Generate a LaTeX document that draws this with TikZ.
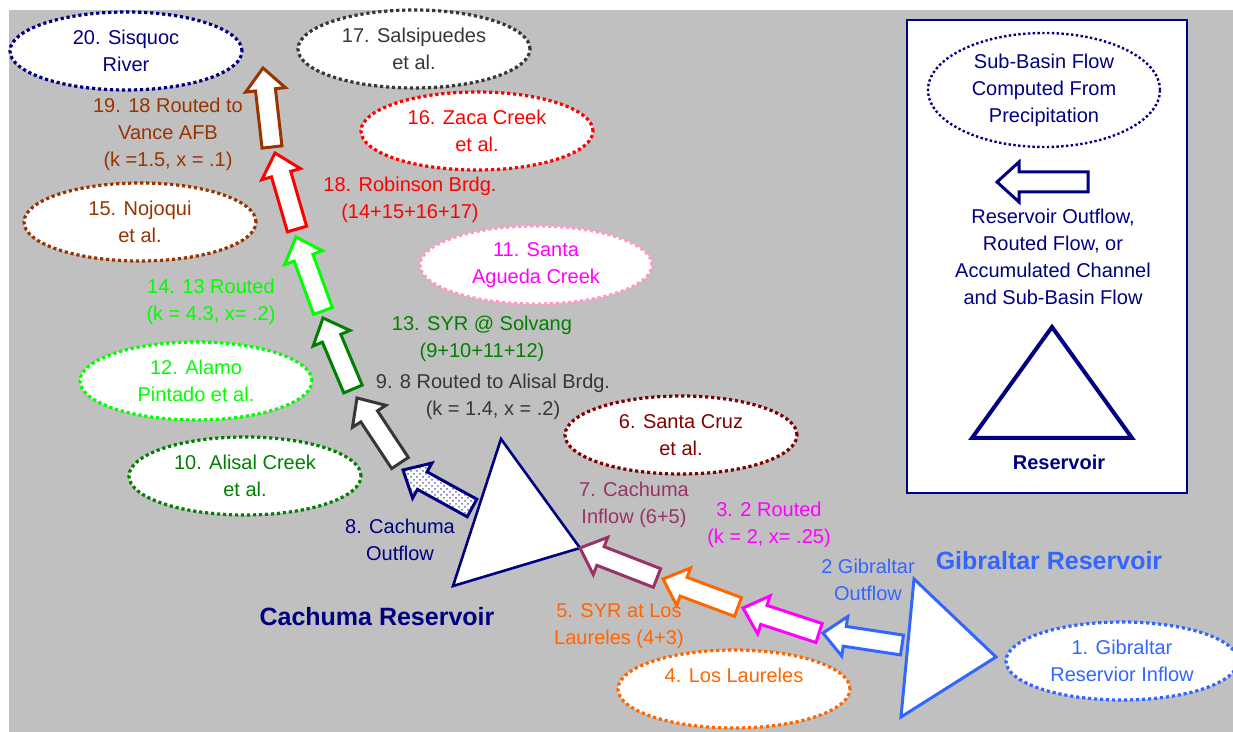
\documentclass[tikz,border=0pt]{standalone}
\usepackage{fontspec}
\setmainfont{Liberation Sans}
\usetikzlibrary{
  shapes.geometric,
  positioning,
  calc,
  patterns
}
\definecolor{bggray}{RGB}{192,192,192}
\definecolor{navyblue}{RGB}{0,0,128}
\definecolor{gibblue}{RGB}{51,102,255}
\definecolor{darkgrey}{RGB}{55,55,55}
\definecolor{vancebrown}{RGB}{153,51,0}
\definecolor{robred}{RGB}{255,0,0}
\definecolor{aguedapink}{RGB}{255,153,204}
\definecolor{aguedamag}{RGB}{255,0,255}
\definecolor{litegreen}{RGB}{0,255,0}
\definecolor{solgreen}{RGB}{0,128,0}
\definecolor{cruzred}{RGB}{128,0,0}
\definecolor{inpurple}{RGB}{153,51,102}
\definecolor{laurorange}{RGB}{255,102,0}

% block arrow: tail -> tip
\newcommand{\flowarrow}[3][]{%
  \coordinate (hb) at ($(#3)!11pt!(#2)$);
  \draw[flw,#1] ($(#2)!5pt!90:(#3)$) -- ($(hb)!5pt!90:(#3)$) -- ($(hb)!10pt!90:(#3)$)
    -- (#3) -- ($(hb)!10pt!-90:(#3)$) -- ($(hb)!5pt!-90:(#3)$)
    -- ($(#2)!5pt!-90:(#3)$) -- cycle;
}

\begin{document}
\begin{tikzpicture}[
  x=0.5pt, y=-0.5pt,
  sub/.style={ellipse, fill=white, line width=1.6pt, dash pattern=on 1.6pt off 1.4pt,
              minimum width=116pt, minimum height=39pt, inner sep=0pt,
              font=\fontsize{10}{13.5}\selectfont, align=center},
  lbl/.style={font=\fontsize{10}{13.5}\selectfont, align=center, inner sep=1pt},
  big/.style={font=\fontsize{12.5}{15}\selectfont\bfseries, inner sep=1pt},
  flw/.style={fill=white, line width=1.5pt, line join=miter},
  resv/.style={fill=white, line join=miter}
]
\useasboundingbox (0,0) rectangle (1233,732);
\clip (0,0) rectangle (1233,732);
\fill[white] (0,0) rectangle (1233,732);
\fill[bggray] (9,10) rectangle (1233,732);

%% ---------- SUB-BASINS ----------
\node[sub, draw=navyblue, text=navyblue]     (sisquoc)  at (126,51)   {20. Sisquoc\\River};
\node[sub, draw=darkgrey, text=darkgrey]     (salsi)    at (414,49)   {17. Salsipuedes\\et al.};
\node[sub, draw=robred, text=robred]         (zaca)     at (477,131)  {16. Zaca Creek\\et al.};
\node[sub, draw=vancebrown, text=vancebrown] (nojoqui)  at (140,222)  {15. Nojoqui\\et al.};
\node[sub, draw=aguedapink, text=aguedamag]  (agueda)   at (536,265)  {11. Santa\\Agueda Creek};
\node[sub, draw=litegreen, text=litegreen]   (alamo)    at (196,381)  {12. Alamo\\Pintado et al.};
\node[sub, draw=solgreen, text=solgreen]     (alisal)   at (245,476)  {10. Alisal Creek\\et al.};
\node[sub, draw=cruzred, text=cruzred]       (cruz)     at (681,435)  {6. Santa Cruz\\et al.};
\node[sub, draw=laurorange, text=laurorange] (laureles) at (734,689)  {4. Los Laureles\\~};
\node[sub, draw=gibblue, text=gibblue]       (gibin)    at (1122,661) {1. Gibraltar\\Reservior Inflow};

%% ---------- RESERVOIRS ----------
\coordinate (cachT) at (501,439);
\coordinate (cachL) at (453,586);
\coordinate (cachR) at (580,548);
\draw[resv, draw=navyblue, line width=1.3pt] (cachT) -- (cachL) -- (cachR) -- cycle;
\coordinate (gibT) at (914,579);
\coordinate (gibB) at (901,717);
\coordinate (gibR) at (996,657);
\draw[resv, draw=gibblue, line width=1.5pt] (gibT) -- (gibB) -- (gibR) -- cycle;

\node[big, text=navyblue] (cachuma)   at (377,617)  {Cachuma Reservoir};
\node[big, text=gibblue]  (gibraltar) at (1049,561) {Gibraltar Reservoir};

%% ---------- FLOW ARROWS (tail, tip) ----------
\coordinate (t2)  at (902,645); \coordinate (p2)  at (823,633);
\coordinate (t3)  at (819,633); \coordinate (p3)  at (743,608);
\coordinate (t5)  at (738,607); \coordinate (p5)  at (663,579);
\coordinate (t7)  at (657,578);
\coordinate (t8)  at (472,508); \coordinate (p8)  at (403,470);
\coordinate (t9)  at (400,463); \coordinate (p9)  at (357,398);
\coordinate (t13) at (353,389); \coordinate (p13) at (323,318);
\coordinate (t14) at (323,311); \coordinate (p14) at (296,237);
\coordinate (t18) at (297,229); \coordinate (p18) at (275,153);
\coordinate (t19) at (272,147); \coordinate (p19) at (263,68);

\flowarrow[draw=gibblue]{t2}{p2}
\flowarrow[draw=aguedamag]{t3}{p3}
\flowarrow[draw=laurorange]{t5}{p5}
\flowarrow[draw=inpurple]{t7}{cachR}
\flowarrow[draw=navyblue, preaction={fill=white}, pattern=crosshatch dots,
           pattern color=navyblue!60]{t8}{p8}
\flowarrow[draw=darkgrey]{t9}{p9}
\flowarrow[draw=solgreen]{t13}{p13}
\flowarrow[draw=litegreen]{t14}{p14}
\flowarrow[draw=robred]{t18}{p18}
\flowarrow[draw=vancebrown]{t19}{p19}

%% ---------- FLOW LABELS ----------
\node[lbl, text=vancebrown] (l19) at (168,134) {19. 18 Routed to\\Vance AFB\\(k =1.5, x = .1)};
\node[lbl, text=robred]     (l18) at (410,200) {18. Robinson Brdg.\\(14+15+16+17)};
\node[lbl, text=litegreen]  (l14) at (211,302) {14. 13 Routed\\(k = 4.3, x= .2)};
\node[lbl, text=solgreen]   (l13) at (482,339) {13. SYR @ Solvang\\(9+10+11+12)};
\node[lbl, text=darkgrey]   (l9)  at (493,397) {9. 8 Routed to Alisal Brdg.\\(k = 1.4, x = .2)};
\node[lbl, text=navyblue]   (l8)  at (400,540) {8. Cachuma\\Outflow};
\node[lbl, text=inpurple]   (l7)  at (634,505) {7. Cachuma\\Inflow (6+5)};
\node[lbl, text=aguedamag]  (l3)  at (769,525) {3. 2 Routed\\(k = 2, x= .25)};
\node[lbl, text=gibblue]    (l2)  at (868,580) {2 Gibraltar\\Outflow};
\node[lbl, text=laurorange] (l5)  at (619,626) {5. SYR at Los\\Laureles (4+3)};

%% ---------- LEGEND ----------
\draw[navyblue, fill=white, line width=1pt] (907,20) rectangle (1187,493);
\node[sub, draw=navyblue, text=navyblue, minimum height=57pt, line width=1.2pt,
      dash pattern=on 1.2pt off 1.2pt] (legsub) at (1044,90)
      {Sub-Basin Flow\\Computed From\\Precipitation};
\coordinate (legt) at (1088,182);
\coordinate (legp) at (997,182);
\flowarrow[draw=navyblue]{legt}{legp}
\node[lbl, text=navyblue] (legflow) at (1053,257)
      {Reservoir Outflow,\\Routed Flow, or\\Accumulated Channel\\and Sub-Basin Flow};
\coordinate (legT) at (1052,327);
\coordinate (legL) at (972,438);
\coordinate (legR) at (1132,438);
\draw[resv, draw=navyblue, line width=2pt] (legT) -- (legL) -- (legR) -- cycle;
\node[lbl, text=navyblue, font=\fontsize{10}{12}\selectfont\bfseries] (legres) at (1059,462) {Reservoir};

\end{tikzpicture}
\end{document}
